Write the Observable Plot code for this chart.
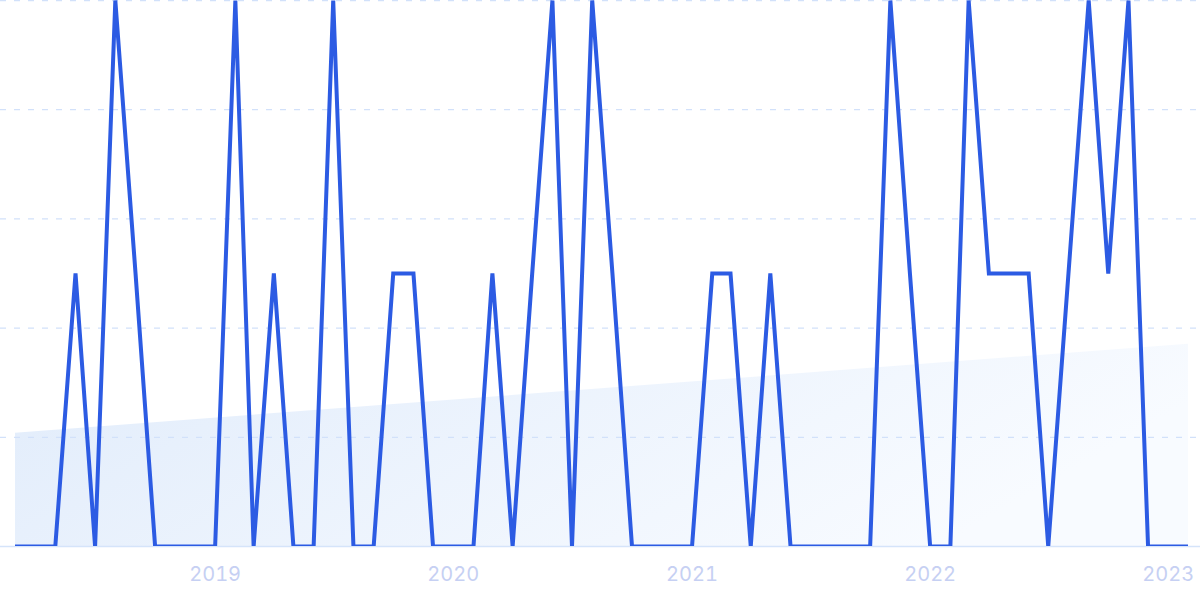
<!DOCTYPE html>
<html>
<head>
<meta charset="utf-8">
<script src="https://cdn.jsdelivr.net/npm/d3@7"></script>
<script src="https://cdn.jsdelivr.net/npm/@observablehq/plot@0.6"></script>
<style>
  html, body { margin: 0; padding: 0; background: #ffffff; }
  #chart { width: 1200px; height: 599px; overflow: hidden; }
  #chart svg { display: block; font-family: Inter, "Noto Sans", sans-serif; }
</style>
</head>
<body>
<div id="chart"></div>
<script>
// Monthly series, March 2018 – February 2023
const startMonth = "2018-03-01";
const values = [
  0, 0, 0, 1, 0, 2, 1, 0, 0, 0,      // Mar–Dec 2018
  0, 2, 0, 1, 0, 0, 2, 0, 0, 1, 1, 0, // 2019
  0, 0, 1, 0, 1, 2, 0, 2, 1, 0, 0, 0, // 2020
  0, 1, 1, 0, 1, 0, 0, 0, 0, 0, 2, 1, // 2021
  0, 0, 2, 1, 1, 1, 0, 1, 2, 1, 2, 0, // 2022
  0, 0                                // Jan–Feb 2023
];
// Trend line (start and end values)
const trendValues = [0.415, 0.741];
const gridValues = [0.4, 0.8, 1.2, 1.6, 2.0];
const tickYears = ["2019", "2020", "2021", "2022", "2023"];

const start = new Date(startMonth + "T00:00:00Z");
const months = values.map((_, i) => d3.utcMonth.offset(start, i));
const series = months.map((d, i) => ({date: d, value: values[i]}));
const trend = [
  {date: months[0], value: trendValues[0]},
  {date: months[months.length - 1], value: trendValues[1]}
];
const ticks = tickYears.map(y => new Date(y + "-01-01T00:00:00Z"));

const chart = Plot.plot({
  width: 1200,
  height: 599,
  marginLeft: 15,
  marginRight: 12,
  marginTop: 0,
  marginBottom: 53,
  x: {type: "utc", domain: [months[0], months[months.length - 1]]},
  y: {domain: [0, 2], axis: null},
  marks: [
    () => {
      const ns = "http://www.w3.org/2000/svg";
      const defs = document.createElementNS(ns, "defs");
      defs.innerHTML = `<linearGradient id="trendGrad" x1="0" y1="0" x2="1" y2="0.3">
          <stop offset="0%" stop-color="#e1ecfb"/>
          <stop offset="100%" stop-color="#f8fbff"/>
        </linearGradient>`;
      return defs;
    },
    Plot.areaY(trend, {x: "date", y: "value", fill: "url(#trendGrad)"}),
    Plot.ruleY(gridValues, {stroke: "#d2e1fa", strokeWidth: 1.3, strokeDasharray: "6,8", insetLeft: -15, insetRight: -12}),
    Plot.ruleY([0], {stroke: "#d5e4fa", strokeWidth: 1.5, insetLeft: -15, insetRight: -12}),
    Plot.lineY(series, {
      x: "date", y: "value",
      stroke: "#2c5be3", strokeWidth: 4,
      strokeLinejoin: "miter", strokeMiterlimit: 10,
      clip: true
    }),
    Plot.axisX({
      ticks: ticks,
      tickFormat: d3.utcFormat("%Y"),
      tickSize: 0,
      tickPadding: 20,
      fontSize: 20,
      color: "#c6d0f3"
    })
  ]
});
document.getElementById("chart").appendChild(chart);
</script>
</body>
</html>
